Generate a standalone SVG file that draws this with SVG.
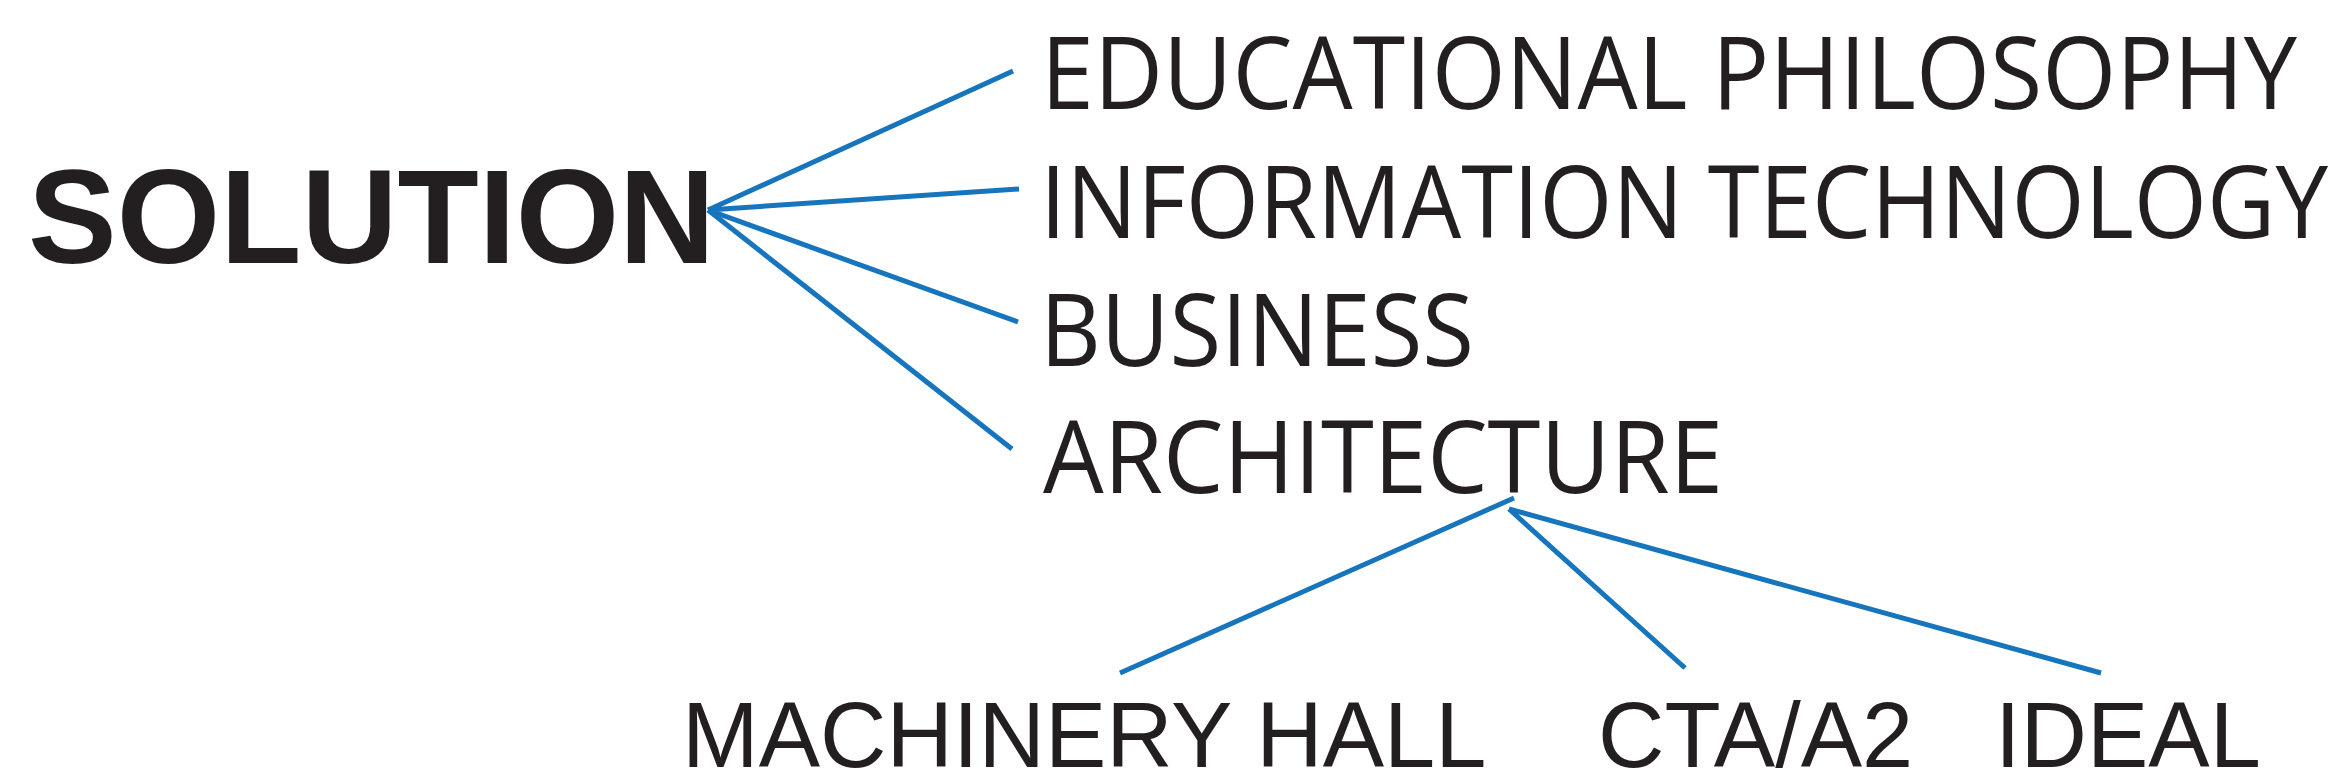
<svg xmlns="http://www.w3.org/2000/svg" width="2333" height="784" viewBox="0 0 2333 784">
  <style>
    .title { font-family: "Liberation Sans", Arial, sans-serif; font-weight: bold; font-size: 133px; fill: #231f20; }
    .cat { font-family: "Open Sans", "Liberation Sans", sans-serif; font-size: 101px; fill: #231f20; }
    .sub { font-family: "Liberation Sans", Arial, sans-serif; font-size: 92px; fill: #231f20; }
    .conn line { stroke: #1675bc; stroke-width: 5; fill: none; }
  </style>
  <rect width="2333" height="784" fill="#ffffff"/>
  <g id="connectors" class="conn">
    <line x1="708" y1="210" x2="1013" y2="71"/>
    <line x1="708" y1="210" x2="1019" y2="189"/>
    <line x1="708" y1="210" x2="1018" y2="322"/>
    <line x1="708" y1="210" x2="1012" y2="449"/>
    <line x1="1514" y1="498" x2="1120" y2="673"/>
    <line x1="1509" y1="509" x2="1685" y2="668"/>
    <line x1="1509" y1="509" x2="2101" y2="673"/>
  </g>
  <g id="solution">
    <text class="title" x="28" y="263">SOLUTION</text>
  </g>
  <g id="educational-philosophy">
    <text class="cat" x="1041" y="109" textLength="1256" lengthAdjust="spacingAndGlyphs">EDUCATIONAL PHILOSOPHY</text>
  </g>
  <g id="information-technology">
    <text class="cat" x="1040" y="238" textLength="1288" lengthAdjust="spacingAndGlyphs">INFORMATION TECHNOLOGY</text>
  </g>
  <g id="business">
    <text class="cat" x="1040" y="366" textLength="434" lengthAdjust="spacingAndGlyphs">BUSINESS</text>
  </g>
  <g id="architecture">
    <text class="cat" x="1043" y="493" textLength="680" lengthAdjust="spacingAndGlyphs">ARCHITECTURE</text>
  </g>
  <g id="machinery-hall">
    <text class="sub" x="682" y="767">MACHINERY HALL</text>
  </g>
  <g id="cta-a2">
    <text class="sub" x="1598" y="767">CTA/A2</text>
  </g>
  <g id="ideal">
    <text class="sub" x="1995" y="767">IDEAL</text>
  </g>
</svg>
